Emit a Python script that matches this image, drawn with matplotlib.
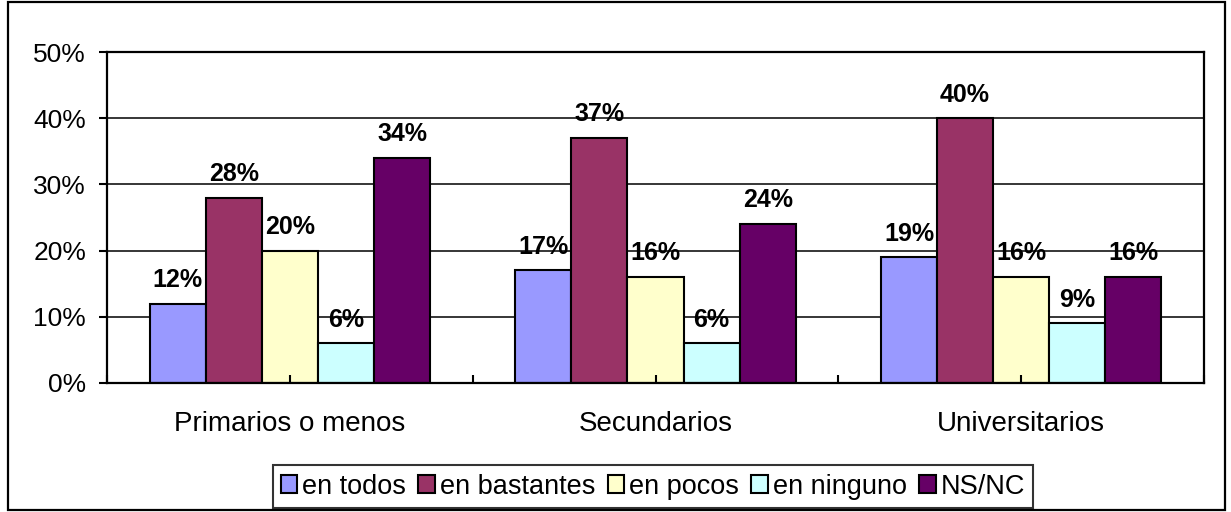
import matplotlib
matplotlib.use('Agg')
import numpy as np
import matplotlib.pyplot as plt
from matplotlib.patches import Rectangle, Patch

plt.rcParams['font.family'] = ['Liberation Sans', 'DejaVu Sans']

# datos
categorias = ['Primarios o menos', 'Secundarios', 'Universitarios']
series = ['en todos', 'en bastantes', 'en pocos', 'en ninguno', 'NS/NC']
en_todos = [12, 17, 19]
en_bastantes = [28, 37, 40]
en_pocos = [20, 16, 16]
en_ninguno = [6, 6, 9]
ns_nc = [34, 24, 16]
colores = ['#9999FF', '#993366', '#FFFFCC', '#CCFFFF', '#660066']

valores = [en_todos, en_bastantes, en_pocos, en_ninguno, ns_nc]

fig = plt.figure(figsize=(12.31, 5.12), dpi=100)
ax = fig.add_axes([107 / 1231, 1 - 383 / 512, (1204 - 107) / 1231, (383 - 52) / 512])

x = np.arange(len(categorias)) + 0.5
ancho = 0.1534

# líneas de división horizontales detrás de las barras
for t in range(10, 51, 10):
    ax.axhline(t, color='black', linewidth=1.1, zorder=0.5)

for i, (serie, vals, col) in enumerate(zip(series, valores, colores)):
    pos = x + (i - 2) * ancho
    ax.bar(pos, vals, width=ancho, color=col, edgecolor='black', linewidth=1.5,
           label=serie, zorder=2)
    for px, v in zip(pos, vals):
        ax.annotate(f'{v}%', (px, v), xytext=(0, 12), textcoords='offset points',
                    ha='center', va='baseline', fontsize=18, fontweight='bold', zorder=3)

ax.set_xlim(0, 3)
ax.set_ylim(0, 50)
ax.set_yticks(range(0, 51, 10))
ax.set_yticklabels([f'{t}%' for t in range(0, 51, 10)])
ax.set_axisbelow(False)

ax.set_xticks(x)
ax.set_xticklabels(categorias)
ax.set_xticks([0, 1, 2, 3], minor=True)
ax.tick_params(axis='x', which='both', direction='in', length=6, width=1.5, pad=20,
               labelsize=20, top=False)
ax.tick_params(axis='y', direction='out', length=6, width=1.5, pad=9, labelsize=19)

for s in ax.spines.values():
    s.set_linewidth(1.6)
    s.set_color('black')

# leyenda
handles = [Patch(facecolor=c, edgecolor='black', linewidth=1.5) for c in colores]
leg = fig.legend(handles, series, ncol=5, loc='center',
                 bbox_to_anchor=(653 / 1231, 1 - 486.5 / 512), bbox_transform=fig.transFigure,
                 fontsize=19.5, frameon=True, fancybox=False, handlelength=0.6,
                 handleheight=0.6, handletextpad=0.2, columnspacing=0.45,
                 borderpad=0.3, borderaxespad=0)
leg.get_frame().set_edgecolor('black')
leg.get_frame().set_linewidth(1.5)

# borde exterior del gráfico
fig.add_artist(Rectangle((8 / 1231, 2 / 512), (1225 - 8) / 1231, (510 - 2) / 512,
                         transform=fig.transFigure, fill=False, edgecolor='black', linewidth=1.6))

plt.savefig('out.png', dpi=100)
